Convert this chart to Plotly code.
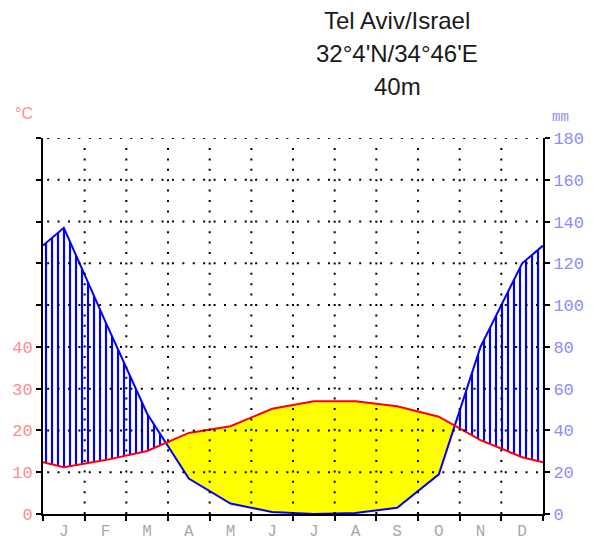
import numpy as np
import plotly.graph_objects as go

# ---- data ----
months = ["J", "F", "M", "A", "M", "J", "J", "A", "S", "O", "N", "D"]
temperature_c = [11.2, 12.9, 15.1, 19.4, 21.0, 25.2, 27.0, 27.0, 25.8, 23.3, 17.7, 13.6]
precip_mm = [137, 92, 48, 17, 5, 1, 0, 0.5, 3, 19, 80, 120]
mm_ticks = [0, 20, 40, 60, 80, 100, 120, 140, 160, 180]
title_lines = ["Tel Aviv/Israel", "32°4'N/34°46'E", "40m"]

# ---- derived series (temperature scaled 10 °C = 20 mm) ----
n = len(months)
xc = np.arange(n) + 0.5
P = np.array(precip_mm, dtype=float)
T2 = 2.0 * np.array(temperature_c, dtype=float)
# wrap-around edge values
x_pts = np.concatenate([[0.0], xc, [float(n)]])
P_pts = np.concatenate([[(P[0] + P[-1]) / 2], P, [(P[0] + P[-1]) / 2]])
T_pts = np.concatenate([[(T2[0] + T2[-1]) / 2], T2, [(T2[0] + T2[-1]) / 2]])

# add crossing points so fills are exact
xs = list(x_pts)
d = P_pts - T_pts
for i in range(len(x_pts) - 1):
    if d[i] * d[i + 1] < 0:
        t = d[i] / (d[i] - d[i + 1])
        xs.append(x_pts[i] + t * (x_pts[i + 1] - x_pts[i]))
xs = np.array(sorted(xs))
Pd = np.interp(xs, x_pts, P_pts)
Td = np.interp(xs, x_pts, T_pts)
Md = np.maximum(Pd, Td)

fig = go.Figure()
# arid (yellow)
fig.add_trace(go.Scatter(x=xs, y=Pd, mode="lines", line=dict(width=0), hoverinfo="skip", showlegend=False))
fig.add_trace(go.Scatter(x=xs, y=Md, mode="lines", line=dict(width=0), fill="tonexty",
                         fillcolor="#ffff00", hoverinfo="skip", showlegend=False))
# humid (blue vertical hatching)
fig.add_trace(go.Scatter(x=xs, y=Td, mode="lines", line=dict(width=0), hoverinfo="skip", showlegend=False))
fig.add_trace(go.Scatter(x=xs, y=Md, mode="lines", line=dict(width=0), fill="tonexty",
                         fillcolor="white",
                         fillpattern=dict(shape="|", size=6, solidity=0.36, fgcolor="#0000ff",
                                          fgopacity=1, bgcolor="white", fillmode="replace"),
                         hoverinfo="skip", showlegend=False))
# lines
fig.add_trace(go.Scatter(x=x_pts, y=P_pts, mode="lines", line=dict(color="#0000ff", width=2),
                         showlegend=False))
fig.add_trace(go.Scatter(x=x_pts, y=T_pts, mode="lines", line=dict(color="#ff0000", width=2),
                         showlegend=False))
# dummy trace to host the secondary axes
fig.add_trace(go.Scatter(x=xc, y=P, xaxis="x2", yaxis="y2", mode="lines",
                         line=dict(width=0), opacity=0, hoverinfo="skip", showlegend=False))

# dotted grid drawn above the fills
dot = dict(color="black", width=2, dash="2px,8.4px")
for k in range(1, n):
    fig.add_shape(type="line", xref="x", yref="y", x0=k, x1=k, y0=0, y1=mm_ticks[-1] - 4,
                  line=dot, layer="above")
for v in mm_ticks[1:]:
    fig.add_shape(type="line", xref="x", yref="y", x0=0.1, x1=n - 0.05, y0=v, y1=v,
                  line=dot, layer="above")

left_text = [str(v // 2) if v // 2 <= 40 else "" for v in mm_ticks]
mono = "Liberation Mono, Courier New, monospace"

fig.update_layout(
    width=595, height=543,
    margin=dict(l=43, r=52, t=138, b=29),
    paper_bgcolor="white", plot_bgcolor="white",
    xaxis=dict(range=[0, n], tickvals=list(range(n + 1)), ticktext=[""] * (n + 1),
               ticks="outside", ticklen=5, tickwidth=2, tickcolor="black",
               showline=True, linecolor="black", linewidth=2, showgrid=False, zeroline=False,
               automargin=False),
    xaxis2=dict(range=[0, n], overlaying="x", side="bottom", tickvals=list(xc), ticktext=months,
                ticks="", showline=False, showgrid=False, zeroline=False, automargin=False,
                tickfont=dict(family=mono, size=16, color="#a8a8a8"), ticklabelstandoff=5),
    yaxis=dict(range=[0, mm_ticks[-1]], tickvals=mm_ticks, ticktext=left_text,
               ticks="outside", ticklen=5, tickwidth=2, tickcolor="black",
               showline=True, linecolor="black", linewidth=2, showgrid=False, zeroline=False,
               automargin=False,
               tickfont=dict(family=mono, size=17, color="#ff8c8c")),
    yaxis2=dict(range=[0, mm_ticks[-1]], overlaying="y", side="right", tickvals=mm_ticks,
                ticks="outside", ticklen=5, tickwidth=2, tickcolor="black",
                showline=True, linecolor="black", linewidth=2, showgrid=False, zeroline=False,
                automargin=False,
                tickfont=dict(family=mono, size=17, color="#8c8cff")),
)

title_y = [1.312, 1.224, 1.136]
for txt, yy in zip(title_lines, title_y):
    fig.add_annotation(text=txt, xref="paper", yref="paper", x=0.708, y=yy, showarrow=False,
                       xanchor="center", yanchor="middle",
                       font=dict(family="Liberation Sans, Arial", size=24, color="#1a1a1a"))
fig.add_annotation(text="°C", xref="paper", yref="paper", x=-0.038, y=1.065, showarrow=False,
                   xanchor="center", yanchor="middle",
                   font=dict(family="Liberation Sans, Arial", size=16, color="#ff8c8c"))
fig.add_annotation(text="mm", xref="paper", yref="paper", x=1.034, y=1.057, showarrow=False,
                   xanchor="center", yanchor="middle",
                   font=dict(family=mono, size=14, color="#8c8cff"))

fig.write_html("out.html", config={"displayModeBar": False, "staticPlot": True},
               post_script="document.body.style.margin='0';document.body.style.overflow='hidden';")
